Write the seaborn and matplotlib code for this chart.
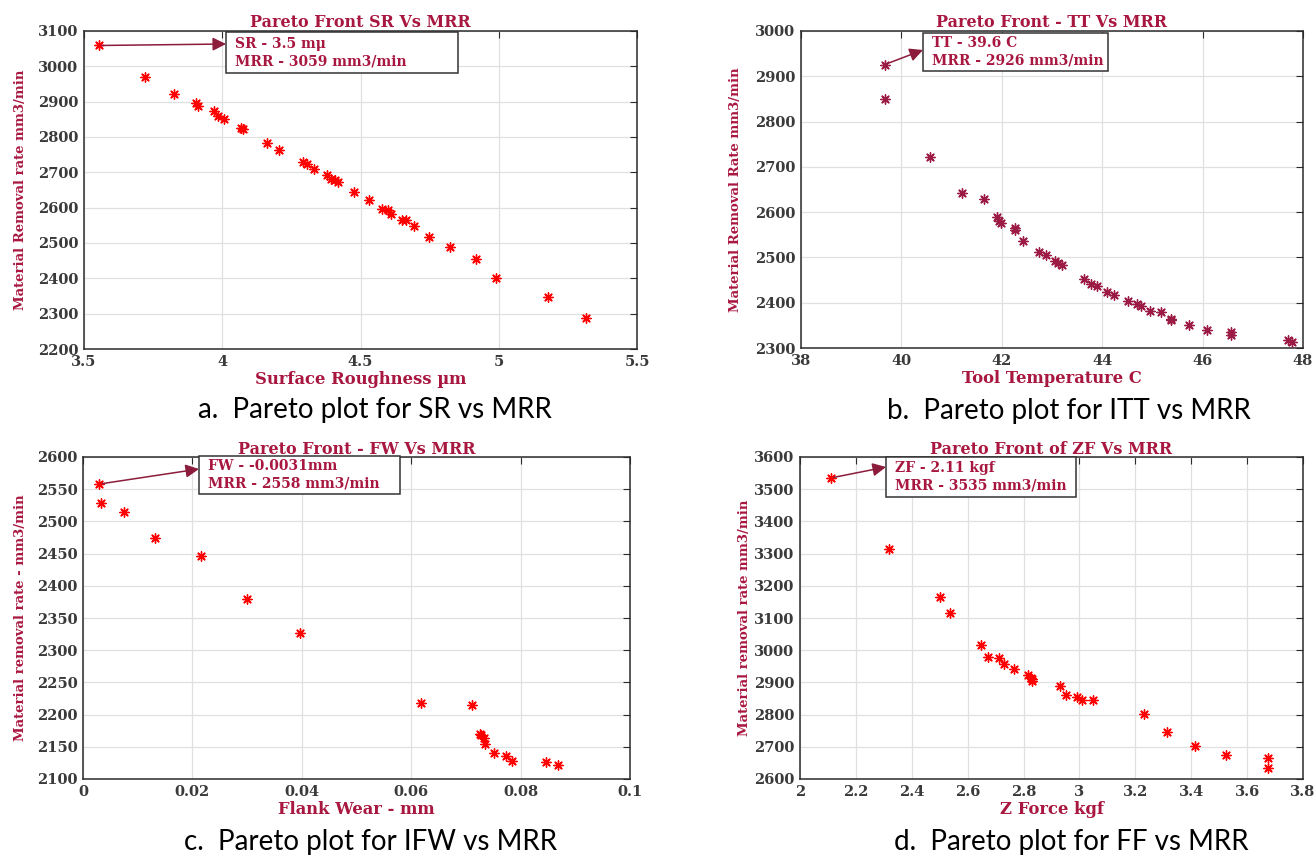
import numpy as np
import pandas as pd
import matplotlib
matplotlib.use("Agg")
import matplotlib.pyplot as plt
import seaborn as sns
from matplotlib.ticker import FormatStrFormatter, MultipleLocator
from matplotlib.patches import Rectangle

# ---------------- data ----------------
sr_x = [3.554, 3.722, 3.826, 3.906, 3.912, 3.969, 3.986, 4.008, 4.068, 4.074,
        4.163, 4.206, 4.291, 4.308, 4.331, 4.378, 4.392, 4.408, 4.420, 4.477,
        4.529, 4.578, 4.600, 4.609, 4.651, 4.666, 4.694, 4.748, 4.823, 4.918,
        4.989, 5.177, 5.315]
sr_y = [3059, 2970, 2923, 2897, 2889, 2874, 2859, 2852, 2826, 2822,
        2784, 2763, 2728, 2725, 2710, 2692, 2681, 2678, 2672, 2645,
        2621, 2596, 2594, 2583, 2565, 2565, 2549, 2518, 2489, 2455,
        2402, 2346, 2287]

tt_x = [39.67, 39.67, 40.57, 41.21, 41.65, 41.91, 41.95, 41.99, 42.27, 42.27,
        42.43, 42.75, 42.89, 43.06, 43.11, 43.19, 43.63, 43.77, 43.89, 44.10,
        44.23, 44.52, 44.69, 44.78, 44.95, 45.18, 45.37, 45.38, 45.73, 46.08,
        46.56, 46.57, 47.70, 47.79]
tt_y = [2926, 2849, 2722, 2643, 2628, 2590, 2581, 2575, 2565, 2561,
        2537, 2512, 2506, 2492, 2487, 2484, 2452, 2442, 2437, 2423,
        2416, 2403, 2398, 2393, 2382, 2379, 2365, 2361, 2350, 2340,
        2335, 2329, 2317, 2313]

fw_x = [0.0030, 0.0032, 0.0075, 0.0132, 0.0215, 0.0300, 0.0397, 0.0618, 0.0712,
        0.0725, 0.0728, 0.0733, 0.0735, 0.0752, 0.0774, 0.0785, 0.0847, 0.0868]
fw_y = [2558, 2528, 2515, 2474, 2446, 2380, 2326, 2218, 2215,
        2170, 2168, 2164, 2155, 2140, 2135, 2128, 2126, 2122]

zf_x = [2.111, 2.317, 2.501, 2.535, 2.649, 2.673, 2.711, 2.731, 2.766, 2.817,
        2.825, 2.829, 2.832, 2.929, 2.951, 2.992, 3.009, 3.047, 3.230, 3.312,
        3.414, 3.524, 3.674, 3.674]
zf_y = [3535, 3313, 3164, 3117, 3015, 2980, 2975, 2956, 2941, 2922,
        2915, 2910, 2903, 2889, 2860, 2854, 2846, 2844, 2803, 2746,
        2702, 2673, 2664, 2635]

titles = ["Pareto Front SR Vs MRR", "Pareto Front - TT Vs MRR",
          "Pareto Front - FW Vs MRR", "Pareto Front of ZF Vs MRR"]
xlabels = ["Surface Roughness \u00b5m", "Tool Temperature C",
           "Flank Wear - mm", "Z Force kgf"]
ylabels = ["Material Removal rate mm3/min", "Material Removal Rate mm3/min",
           "Material removal rate - mm3/min", "Material removal rate mm3/min"]
captions = ["a.  Pareto plot for SR vs MRR", "b.  Pareto plot for ITT vs MRR",
            "c.  Pareto plot for IFW vs MRR", "d.  Pareto plot for FF vs MRR"]
notes = ["SR - 3.5 m\u03bc\nMRR - 3059 mm3/min",
         "TT - 39.6 C\nMRR - 2926 mm3/min",
         "FW - -0.0031mm\nMRR - 2558 mm3/min",
         "ZF - 2.11 kgf\nMRR - 3535 mm3/min"]
xlims = [(3.5, 5.5), (38, 48), (0, 0.1), (2, 3.8)]
xsteps = [0.5, 2, 0.02, 0.2]
ylims = [(2200, 3100), (2300, 3000), (2100, 2600), (2600, 3600)]
ysteps = [100, 100, 50, 100]

# ---------------- style ----------------
sns.set_style("white")
plt.rcParams["font.family"] = ["DejaVu Serif"]

LABEL_C = "#a8173f"
ARROW_C = "#8c1c3c"
TICK_C = "#3a3a3a"

fig = plt.figure(figsize=(13.16, 8.58), dpi=100)
W, H = 1316, 858
rects_px = [(84, 31, 637, 349), (801, 31, 1303, 348),
            (83, 457, 630, 779), (800, 457, 1303, 779)]
axes = []
for (l, t, r, b) in rects_px:
    axes.append(fig.add_axes([l / W, (H - b) / H, (r - l) / W, (b - t) / H]))

data = [(sr_x, sr_y), (tt_x, tt_y), (fw_x, fw_y), (zf_x, zf_y)]
colors = ["red", "#9b1b45", "red", "red"]
# annotation boxes in pixels: (left, top, right, bottom); arrow tip y (px)
boxes_px = [(226, 32, 458, 73), (923, 33, 1108, 71),
            (199, 456, 400, 494), (886, 457, 1076, 497)]
tip_y = [44, 50, 469, 467]
ylab_x = [27, 742, 27, 751]
cap_pos = [(375, 410), (1069, 411), (371, 842), (1071, 842)]
title_pad = [3, 3, 2, 2]

for i, ax in enumerate(axes):
    x, y = data[i]
    l, t, r, b = rects_px[i]
    aw, ah = r - l, b - t
    df = pd.DataFrame({"x": x, "y": y})
    sns.scatterplot(data=df, x="x", y="y", ax=ax, marker=(8, 2, 0),
                    color=colors[i], edgecolor=colors[i], s=45, linewidth=1.0,
                    zorder=3, legend=False)
    ax.set_xlim(*xlims[i])
    ax.set_ylim(*ylims[i])
    ax.xaxis.set_major_locator(MultipleLocator(xsteps[i]))
    ax.yaxis.set_major_locator(MultipleLocator(ysteps[i]))
    ax.xaxis.set_major_formatter(FormatStrFormatter("%g"))
    ax.yaxis.set_major_formatter(FormatStrFormatter("%g"))
    ax.grid(True, color="#e0e0e0", lw=0.9)
    ax.set_axisbelow(True)
    for s in ax.spines.values():
        s.set_color("#2b2b2b")
        s.set_linewidth(1.1)
        s.set_visible(True)
    ax.tick_params(direction="in", length=5, width=0.8, color="#2b2b2b",
                   top=True, right=True, labelsize=10.5, labelcolor=TICK_C, pad=4)
    for lab in ax.get_xticklabels() + ax.get_yticklabels():
        lab.set_fontweight("bold")
    ax.set_title(titles[i], color=LABEL_C, fontsize=11.5, fontweight="bold",
                 pad=title_pad[i])
    ax.set_xlabel(xlabels[i], color=LABEL_C, fontsize=11.8, fontweight="bold", labelpad=2)
    ax.set_ylabel(ylabels[i], color=LABEL_C, fontsize=9.5, fontweight="bold")
    ax.yaxis.set_label_coords((ylab_x[i] - l) / aw, 0.5)

    # annotation box
    bl, bt, br, bb = boxes_px[i]
    fx0, fx1 = (bl - l) / aw, (br - l) / aw
    fy0, fy1 = (b - bb) / ah, (b - bt) / ah
    ax.add_patch(Rectangle((fx0, fy0), fx1 - fx0, fy1 - fy0, transform=ax.transAxes,
                           fc="white", ec="#333333", lw=1.1, zorder=5, clip_on=False))
    ax.text(fx0 + 9 / aw, (fy0 + fy1) / 2, notes[i], transform=ax.transAxes,
            ha="left", va="center", fontsize=10, fontweight="bold",
            color=LABEL_C, linespacing=1.35, zorder=6)
    ax.annotate("", xy=(fx0, (b - tip_y[i]) / ah), xycoords="axes fraction",
                xytext=(x[0], y[0]), textcoords="data",
                arrowprops=dict(arrowstyle="-|>", color=ARROW_C, lw=1.1,
                                mutation_scale=20, shrinkA=2, shrinkB=0),
                zorder=6)

    cx, cy = cap_pos[i]
    fig.text(cx / W, (H - cy) / H, captions[i], ha="center", va="center",
             fontsize=20, family=["Lato", "DejaVu Sans"], color="black")

fig.savefig("out.png", dpi=100, facecolor="white")
